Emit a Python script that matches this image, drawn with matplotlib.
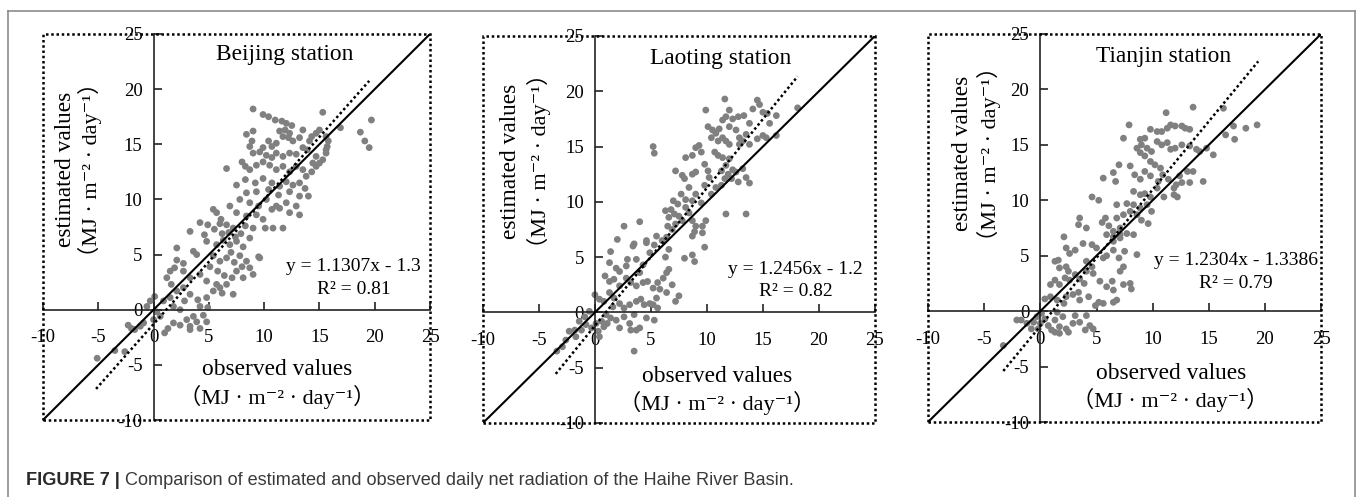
import matplotlib
matplotlib.use("Agg")
import matplotlib.pyplot as plt
import numpy as np
from matplotlib.patches import Rectangle
from matplotlib.lines import Line2D

plt.rcParams['font.family'] = ['Liberation Serif', 'DejaVu Serif', 'Noto Sans CJK SC']

# ---------------- data: (observed, estimated) daily net radiation, MJ m-2 day-1
beijing_pts = np.array([
    (9.0, 18.2), (9.9, 17.7), (10.4, 17.5), (11.0, 17.2), (11.6, 17.1), (12.0, 16.9), (12.5, 16.7),
    (15.3, 17.9), (19.7, 17.2), (18.7, 16.1), (19.1, 15.3), (19.5, 14.7), (16.9, 16.5), (15.6, 15.7),
    (15.8, 15.3), (15.7, 14.8), (15.6, 14.2), (15.0, 16.3), (14.7, 16.0), (14.3, 15.7), (14.1, 15.3),
    (13.5, 16.3), (13.2, 15.6), (12.3, 16.0), (11.9, 16.3), (11.4, 16.2), (11.7, 15.7), (12.2, 15.6),
    (12.6, 15.3), (11.1, 15.1), (10.7, 14.8), (10.4, 15.3), (9.9, 14.7), (9.6, 14.3), (9.0, 16.2),
    (8.4, 15.9), (8.9, 15.3), (8.7, 14.8), (9.0, 14.2), (10.2, 14.0), (10.7, 13.8), (11.1, 14.2),
    (11.7, 13.9), (12.3, 14.2), (12.9, 14.1), (13.5, 14.7), (13.9, 14.5), (14.7, 13.9), (15.0, 13.3),
    (15.3, 13.6), (15.6, 14.5), (6.6, 12.8), (8.0, 13.4), (8.3, 13.0), (8.7, 12.7), (9.3, 13.1),
    (9.9, 13.4), (10.5, 13.1), (11.1, 12.7), (11.7, 13.0), (12.3, 12.5), (12.9, 13.0), (13.5, 12.7),
    (13.8, 12.1), (14.3, 12.5), (14.7, 13.0), (14.4, 13.3), (7.5, 11.3), (8.3, 11.8), (9.2, 11.5),
    (9.9, 11.9), (10.7, 11.5), (11.4, 11.2), (12.0, 11.6), (12.6, 11.3), (13.2, 11.5), (13.7, 11.0),
    (8.4, 10.6), (9.3, 10.7), (10.4, 10.9), (11.3, 10.4), (12.3, 10.7), (13.2, 10.3), (14.0, 10.3),
    (5.4, 9.1), (5.7, 8.8), (6.9, 9.4), (7.8, 10.0), (8.7, 9.7), (9.5, 9.4), (10.2, 10.0),
    (11.1, 9.4), (12.0, 9.7), (12.9, 9.4), (7.5, 8.8), (8.4, 8.5), (9.3, 8.6), (9.9, 8.2),
    (10.7, 9.1), (11.4, 9.2), (12.3, 8.8), (13.2, 8.6), (4.2, 7.9), (4.9, 7.7), (6.1, 8.2),
    (6.6, 7.7), (7.2, 7.4), (8.3, 7.6), (9.0, 7.4), (10.1, 7.4), (10.8, 7.4), (11.7, 7.4),
    (3.3, 7.1), (4.6, 6.8), (6.2, 6.9), (6.8, 7.0), (7.4, 6.6), (7.9, 6.9), (5.5, 7.3), (6.0, 7.8),
    (2.1, 5.6), (3.6, 5.3), (3.9, 5.0), (4.8, 6.2), (5.7, 5.9), (6.3, 6.3), (6.9, 5.9), (7.5, 6.2),
    (8.1, 5.7), (8.7, 6.5), (9.5, 4.8), (9.6, 4.7), (9.0, 3.2), (8.1, 2.9), (7.2, 1.4), (6.2, 1.5),
    (5.7, 2.3), (4.8, 2.6), (4.2, 3.2), (3.3, 2.9), (2.7, 3.5), (1.9, 3.8), (1.5, 3.5), (2.1, 4.5),
    (2.7, 4.2), (1.2, 2.9), (1.6, 2.3), (2.1, 1.7), (2.7, 2.0), (3.3, 1.4), (4.0, 0.9), (4.8, 1.1),
    (5.4, 1.7), (6.0, 2.0), (6.6, 2.3), (7.1, 2.9), (7.5, 3.5), (8.0, 3.9), (8.4, 4.4), (8.7, 3.8),
    (5.4, 4.9), (6.0, 4.4), (6.6, 4.7), (7.0, 5.2), (5.1, 3.9), (5.8, 3.5), (6.4, 3.1), (7.8, 4.9),
    (7.3, 4.3), (4.2, 0.3), (4.9, 0.2), (4.5, -0.5), (3.6, -0.6), (3.0, -0.9), (2.4, -1.4),
    (1.8, -1.2), (1.3, -1.7), (1.0, -2.1), (3.3, -1.5), (3.9, -1.1), (4.8, -1.1), (4.2, -1.7),
    (3.3, -1.8), (0.1, 1.2), (-0.3, 0.8), (-0.6, 0.3), (0.3, -0.2), (0.6, -0.6), (0.0, -0.9),
    (-0.9, -1.2), (-1.2, -1.5), (-1.7, -1.8), (-2.3, -1.4), (-2.0, -1.7), (-3.5, -3.7),
    (-2.6, -3.8), (-5.1, -4.4), (0.9, 0.8), (1.5, 1.1), (1.8, 0.3), (2.4, 0.0), (2.8, 0.8),
])

laoting_pts = np.array([
    (11.6, 19.3), (18.1, 18.5), (14.5, 19.2), (12.0, 18.3), (11.7, 17.7), (11.4, 17.4), (12.3, 17.5),
    (12.8, 17.7), (13.3, 17.8), (13.8, 17.1), (15.0, 18.1), (15.4, 18.0), (15.6, 17.1), (16.2, 17.8),
    (14.7, 18.8), (14.1, 18.4), (9.9, 18.3), (10.1, 16.8), (10.5, 16.5), (10.8, 16.2), (10.4, 15.8),
    (11.1, 16.6), (11.4, 15.8), (11.7, 15.5), (12.0, 15.2), (11.0, 15.5), (12.0, 16.8), (12.6, 16.5),
    (12.9, 15.8), (13.2, 15.5), (13.5, 16.1), (13.8, 15.2), (12.9, 15.2), (14.5, 15.7), (15.0, 16.0),
    (15.3, 15.8), (16.2, 16.0), (9.0, 14.9), (9.3, 15.1), (9.5, 14.5), (8.1, 14.0), (8.7, 14.2),
    (5.2, 15.0), (5.3, 14.4), (10.7, 14.5), (11.0, 14.2), (11.4, 14.0), (12.0, 13.9), (11.7, 13.3),
    (12.3, 12.9), (12.6, 12.7), (11.9, 12.5), (11.6, 12.1), (12.2, 12.1), (11.3, 12.8), (13.2, 13.0),
    (13.5, 12.2), (13.8, 11.7), (12.8, 11.8), (9.8, 13.4), (10.1, 12.8), (10.2, 12.2), (9.0, 12.7),
    (8.7, 12.5), (7.2, 12.8), (7.8, 12.4), (8.0, 12.1), (9.8, 11.5), (10.4, 10.7), (10.8, 11.3),
    (11.3, 11.5), (8.4, 11.3), (9.0, 10.7), (9.5, 9.9), (8.7, 10.1), (8.1, 10.2), (7.7, 10.7),
    (7.0, 10.1), (7.4, 9.8), (6.8, 9.3), (6.3, 9.2), (7.1, 8.9), (6.6, 8.6), (7.5, 8.7), (7.8, 8.3),
    (7.2, 8.0), (6.9, 7.5), (6.5, 7.8), (8.1, 9.5), (8.4, 9.0), (8.7, 8.3), (9.0, 7.8), (9.6, 7.8),
    (8.9, 7.3), (9.9, 8.3), (11.7, 8.9), (13.5, 8.9), (6.4, 6.8), (5.5, 6.9), (4.6, 6.5), (4.0, 8.2),
    (2.6, 7.8), (2.0, 6.6), (3.5, 6.2), (8.7, 6.9), (9.6, 7.2), (1.4, 5.5), (1.3, 4.5), (1.9, 4.0),
    (2.2, 3.7), (2.8, 4.2), (2.9, 4.8), (3.4, 6.0), (3.7, 4.8), (4.0, 3.6), (4.3, 4.3), (4.6, 6.3),
    (4.9, 5.4), (5.3, 6.1), (6.0, 6.5), (6.3, 5.0), (6.6, 5.7), (8.0, 4.9), (8.7, 5.2), (8.9, 4.6),
    (9.8, 5.9), (0.9, 3.3), (1.3, 2.8), (1.7, 3.0), (2.2, 2.4), (2.8, 3.1), (3.2, 2.7), (3.7, 2.4),
    (4.3, 2.7), (4.7, 2.8), (5.2, 2.2), (5.6, 2.7), (6.1, 3.1), (6.4, 3.6), (6.6, 3.9), (6.9, 2.5),
    (7.2, 1.0), (7.5, 1.5), (5.8, 2.1), (6.4, 1.8), (5.5, 1.3), (4.9, 0.8), (4.4, 0.7), (5.2, 0.7),
    (5.6, 0.4), (0.0, 1.6), (0.4, 1.2), (0.8, 1.0), (1.3, 1.8), (1.7, 1.3), (2.2, 0.8), (1.6, 0.5),
    (2.6, 0.4), (3.1, 0.7), (3.7, 1.0), (4.1, 1.2), (1.0, -0.2), (1.4, -0.5), (1.1, -1.0),
    (1.9, -0.7), (2.6, -0.4), (3.1, -1.0), (2.2, -1.4), (3.2, -1.6), (3.7, -1.6), (4.0, -1.4),
    (4.6, -0.5), (5.3, -0.7), (3.5, -0.2), (3.5, -3.5), (-0.5, 0.1), (-0.9, -0.4), (-1.4, -0.8),
    (-0.8, -1.1), (-1.8, -1.6), (-1.2, -1.6), (-2.3, -1.7), (-1.7, -2.2), (-2.6, -2.5),
    (-0.3, -1.4), (0.1, -1.0), (-2.9, -3.1), (-3.4, -3.5), (0.8, -1.3), (0.6, -0.8), (0.3, -1.7),
    (0.4, -2.2),
])

tianjin_pts = np.array([
    (11.2, 17.9), (13.6, 18.4), (7.9, 16.8), (7.4, 15.6), (9.8, 16.4), (10.4, 16.2), (10.8, 16.2),
    (11.3, 16.5), (11.6, 16.8), (12.0, 16.7), (12.6, 16.7), (12.9, 16.5), (13.3, 16.4), (16.3, 18.3),
    (16.5, 15.9), (17.2, 16.7), (17.3, 15.5), (18.3, 16.5), (19.3, 16.8), (15.4, 14.1), (14.5, 11.7),
    (8.9, 15.5), (9.3, 15.6), (9.0, 15.0), (9.5, 14.7), (8.6, 14.7), (8.9, 14.3), (9.3, 14.0),
    (9.9, 14.4), (10.4, 15.3), (10.8, 15.0), (11.3, 15.2), (11.6, 14.6), (12.0, 14.7), (12.6, 15.0),
    (13.3, 14.9), (13.9, 14.6), (14.2, 14.4), (14.8, 14.7), (8.0, 13.1), (8.4, 12.3), (8.9, 11.9),
    (9.3, 12.6), (9.8, 13.5), (10.2, 13.2), (10.7, 12.9), (10.9, 12.3), (9.8, 12.2), (10.5, 11.7),
    (11.4, 11.9), (12.1, 11.4), (11.9, 11.1), (12.4, 12.2), (13.1, 12.6), (13.3, 11.6), (12.6, 11.6),
    (13.6, 12.6), (6.5, 12.5), (6.7, 11.7), (5.6, 12.0), (7.0, 13.2), (4.6, 10.3), (5.2, 10.0),
    (8.3, 10.8), (8.9, 10.5), (9.3, 10.6), (9.8, 10.3), (10.4, 11.1), (11.0, 10.3), (11.9, 10.5),
    (12.2, 10.3), (6.8, 9.6), (7.7, 9.7), (8.3, 9.6), (8.9, 9.3), (9.5, 9.6), (9.9, 9.0), (5.8, 8.4),
    (5.5, 8.0), (6.1, 7.7), (6.8, 8.4), (7.4, 8.7), (8.0, 9.0), (8.6, 8.7), (9.0, 8.2), (9.6, 7.9),
    (3.5, 8.4), (3.4, 7.8), (4.1, 7.5), (5.9, 6.9), (6.5, 7.2), (7.1, 7.5), (7.7, 7.0), (8.3, 6.9),
    (6.5, 6.7), (7.1, 6.9), (2.1, 6.7), (2.3, 5.7), (3.1, 5.5), (2.6, 5.2), (1.3, 4.5), (1.6, 4.6),
    (1.7, 3.9), (2.3, 4.0), (2.5, 3.6), (3.8, 6.1), (4.6, 6.0), (5.0, 5.7), (5.6, 4.8), (5.9, 5.0),
    (6.5, 5.5), (7.0, 4.8), (7.4, 4.0), (7.5, 5.4), (8.6, 5.1), (6.5, 6.3), (7.1, 6.6), (4.1, 4.5),
    (4.6, 4.0), (0.9, 2.4), (1.3, 2.8), (1.7, 2.4), (2.2, 3.0), (2.6, 2.8), (3.1, 3.3), (3.5, 2.9),
    (3.9, 2.5), (4.1, 3.6), (4.7, 3.4), (5.3, 2.7), (5.9, 2.2), (6.4, 2.7), (7.1, 3.6), (7.4, 2.4),
    (8.0, 2.5), (8.1, 2.0), (6.5, 1.9), (0.4, 1.1), (0.9, 1.3), (1.5, 1.0), (2.1, 0.7), (2.3, 1.3),
    (2.9, 1.5), (3.4, 1.7), (3.5, 1.0), (4.3, 1.3), (4.9, 0.5), (5.2, 0.8), (5.6, 0.7), (6.5, 0.8),
    (6.8, 1.0), (0.1, -0.2), (0.4, -0.7), (0.0, -1.1), (0.7, -1.3), (1.3, -0.8), (1.7, -1.4),
    (2.3, -1.6), (2.9, -1.1), (3.5, -1.0), (4.0, -1.7), (4.4, -1.3), (4.7, -1.6), (4.1, -0.4),
    (3.1, -0.4), (2.0, -0.5), (1.5, -0.1), (1.3, -1.9), (1.7, -2.0), (2.5, -1.9), (1.0, -1.7),
    (-0.3, -0.5), (-0.6, -1.0), (-1.2, -1.1), (-1.7, -0.8), (-2.1, -0.8), (-3.3, -3.1),
    (-0.8, -1.6), (-0.2, -1.6),
])

stations = ["Beijing station", "Laoting station", "Tianjin station"]
slopes = [1.1307, 1.2456, 1.2304]
intercepts = [-1.3, -1.2, -1.3386]
r_squared = ["0.81", "0.82", "0.79"]
equations = ["y = 1.1307x - 1.3", "y = 1.2456x - 1.2", "y = 1.2304x - 1.3386"]
fit_ranges = [(-5.2, 19.5), (-3.5, 18.1), (-3.3, 19.4)]
ticks = [-10, -5, 0, 5, 10, 15, 20, 25]
tick_labels = ["-10", "-5", "0", "5", "10", "15", "20", "25"]

# ---------------- layout
fig = plt.figure(figsize=(13.6, 4.97), dpi=100)
axes_rects = [(0.0316, 0.1549, 0.2846, 0.7767),
              (0.3551, 0.1489, 0.2882, 0.7787),
              (0.6824, 0.1509, 0.2890, 0.7807)]
title_pos = [(11.9, 23.1), (11.2, 23.0), (11.0, 23.0)]
eq_pos = [(18.1, 3.9, 1.8), (17.9, 3.9, 1.9), (17.4, 4.6, 2.5)]
xlab_pos = [(11.2, -5.4, -7.9), (10.9, -5.8, -8.2), (11.6, -5.6, -8.0)]
ylab_pos = [(-8.0, -5.75, 12.7), (-7.5, -5.0, 13.7), (-6.9, -4.6, 14.2)]

unit_text = "（MJ · m\u207b\u00b2 · day\u207b\u00b9）"
dotted = (0, (1, 1.1))

for i, pts in enumerate([beijing_pts, laoting_pts, tianjin_pts]):
    ax = fig.add_axes(axes_rects[i])
    ax.set_xlim(-10, 25)
    ax.set_ylim(-10, 25)

    ax.scatter(pts[:, 0], pts[:, 1], s=24, color="#808080", edgecolors="none", zorder=2)

    # 1:1 reference line and least-squares fit
    ax.plot([-10, 25], [-10, 25], color="black", lw=1.5, zorder=3)
    xf = np.array(fit_ranges[i])
    ax.plot(xf, slopes[i] * xf + intercepts[i], color="black", lw=1.8,
            ls=dotted, zorder=3)

    # axes crossing at the origin, dotted outer frame
    for side in ("left", "bottom"):
        ax.spines[side].set_position(("data", 0))
        ax.spines[side].set_linewidth(1.2)
        ax.spines[side].set_color("#222222")
    for side in ("right", "top"):
        ax.spines[side].set_visible(False)
    ax.add_patch(Rectangle((0, 0), 1, 1, transform=ax.transAxes, fill=False,
                           lw=1.8, ls=dotted, edgecolor="black", clip_on=False,
                           zorder=4))

    ax.set_xticks(ticks)
    ax.set_xticklabels(tick_labels)
    ax.set_yticks(ticks)
    ax.set_yticklabels(tick_labels)
    ax.tick_params(axis="x", direction="in", length=6, width=1.2, pad=14,
                   labelsize=13.5, color="#222222")
    ax.tick_params(axis="y", direction="in", length=6, width=1.2, pad=8,
                   labelsize=13.5, color="#222222")
    ax.set_facecolor("none")

    tx, ty = title_pos[i]
    ax.text(tx, ty, stations[i], ha="center", va="center", fontsize=16.8)

    ex, ey1, ey2 = eq_pos[i]
    ax.text(ex, ey1, equations[i], ha="center", va="center", fontsize=14)
    ax.text(ex, ey2, "R\u00b2 = " + r_squared[i], ha="center", va="center", fontsize=14)

    lx, ly1, ly2 = xlab_pos[i]
    ax.text(lx, ly1, "observed values", ha="center", va="center", fontsize=16.8)
    ax.text(lx, ly2, unit_text, ha="center", va="center", fontsize=16)

    yx1, yx2, yy = ylab_pos[i]
    ax.text(yx1, yy, "estimated values", ha="center", va="center",
            fontsize=16.8, rotation=90)
    ax.text(yx2, yy, unit_text, ha="center", va="center",
            fontsize=16, rotation=90)

# ---------------- figure border and caption
W, H = 1360.0, 497.0
border = dict(color="#8c8c8c", lw=1.2, transform=fig.transFigure)
fig.add_artist(Line2D([8 / W, 8 / W], [0, 1 - 11 / H], **border))
fig.add_artist(Line2D([8 / W, 1355 / W], [1 - 11 / H, 1 - 11 / H], **border))
fig.add_artist(Line2D([1355 / W, 1355 / W], [0, 1 - 11 / H], **border))

cap_y = 1 - 480.5 / H
cap_font = ["Liberation Sans", "DejaVu Sans"]
t1 = fig.text(26 / W, cap_y, "FIGURE 7 | ", fontsize=13.1, weight="bold",
              family=cap_font, color="#2a2a2a", va="center")
fig.canvas.draw()
bb = t1.get_window_extent(renderer=fig.canvas.get_renderer())
fig.text(bb.x1 / W, cap_y,
         "Comparison of estimated and observed daily net radiation of the Haihe River Basin.",
         fontsize=13.1, family=cap_font, color="#3a3a3a", va="center")

fig.savefig("out.png", dpi=100)
